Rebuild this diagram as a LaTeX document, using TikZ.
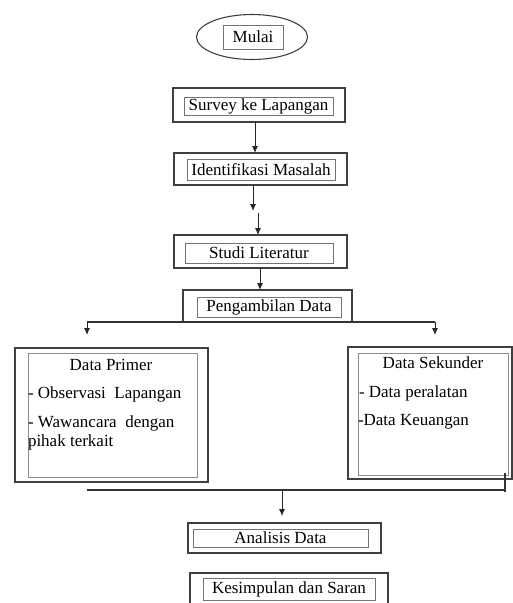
\documentclass[tikz,border=0pt]{standalone}
\usepackage{fontspec}
\setmainfont{Liberation Serif}
\usetikzlibrary{arrows.meta,shapes.geometric}
\begin{document}
\begin{tikzpicture}[x=1pt,y=-1pt,
  obox/.style={draw=black!75,line width=1.1pt,inner sep=0pt,outer sep=0pt},
  ibox/.style={draw=black!55,line width=0.6pt,inner sep=0pt,outer sep=0pt,font=\fontsize{17}{19}\selectfont},
  txt/.style={inner sep=0pt,outer sep=0pt,font=\fontsize{17}{19}\selectfont},
  arr/.style={draw=black!85,line width=0.9pt,-{Latex[length=7pt,width=6pt]}},
  ln/.style={draw=black!80,line width=1.1pt}]
\useasboundingbox (0,0) rectangle (513,603);
% start
\node[ellipse,obox,minimum width=111,minimum height=45] (mulai) at (252,37) {};
\node[ibox,minimum width=60,minimum height=24] (mulait) at (253,37) {Mulai};
% survey
\node[obox,minimum width=172,minimum height=34] (survey) at (259,105) {};
\node[ibox,minimum width=149,minimum height=18] (surveyt) at (258.5,106) {Survey ke Lapangan};
% identifikasi
\node[obox,minimum width=173,minimum height=32] (ident) at (260.5,169) {};
\node[ibox,minimum width=148,minimum height=21] (identt) at (261,169.5) {Identifikasi Masalah};
% studi
\node[obox,minimum width=173,minimum height=33] (studi) at (260.5,251.5) {};
\node[ibox,minimum width=148,minimum height=20] (studit) at (259,253) {Studi Literatur};
% pengambilan
\node[obox,minimum width=169,minimum height=32] (ambil) at (267.5,306) {};
\node[ibox,minimum width=144,minimum height=20] (ambilt) at (269,307) {Pengambilan Data};
% data primer
\node[obox,minimum width=193,minimum height=134] (primer) at (111.5,415) {};
\node[draw=black!45,line width=0.6pt,inner sep=0pt,minimum width=169,minimum height=124] (primeri) at (112.5,415) {};
\node[txt] (primert) at (111,365) {Data Primer};
\node[txt,anchor=west] (p1) at (28,394) {- Observasi\ \ Lapangan};
\node[txt,anchor=west] (p2) at (28,423) {- Wawancara\ \ dengan};
\node[txt,anchor=west] (p3) at (28,442) {pihak terkait};
% data sekunder
\node[obox,minimum width=164,minimum height=132] (sekunder) at (430,413) {};
\node[draw=black!45,line width=0.6pt,inner sep=0pt,minimum width=150,minimum height=122] (sekunderi) at (433,414) {};
\node[txt] (sekundert) at (433,363) {Data Sekunder};
\node[txt,anchor=west] (s1) at (359,393) {- Data peralatan};
\node[txt,anchor=west] (s2) at (358,422) {-Data Keuangan};
% analisis
\node[obox,minimum width=193,minimum height=30] (analisis) at (284.5,538) {};
\node[ibox,minimum width=175,minimum height=18] (analisist) at (280.5,538) {Analisis Data};
% kesimpulan
\node[obox,minimum width=198,minimum height=44] (kesim) at (289,595) {};
\node[ibox,minimum width=172,minimum height=22] (kesimt) at (289,589) {Kesimpulan dan Saran};
% connectors
\draw[arr] (survey.south -| 255,0) -- (ident.north -| 255,0);
\coordinate (m1) at (253,211);
\coordinate (m2) at (258,213);
\draw[arr] (ident.south -| m1) -- (m1);
\draw[arr] (m2) -- (studi.north -| m2);
\draw[arr] (studi.south -| 260,0) -- (ambil.north -| 260,0);
% split
\coordinate (sl) at (87,322);
\coordinate (sr) at (435,322);
\draw[ln] (sl) -- (sr);
\draw[arr] (sl) -- (87,335);
\draw[arr] (sr) -- (435,335);
% merge
\coordinate (jl) at (87,490);
\coordinate (jr) at (505,490);
\coordinate (jm) at (282,490);
\draw[ln] (jl) -- (jr);
\draw[ln] (505,473) -- (505,492);
\draw[arr] (jm) -- (282,516);
\end{tikzpicture}
\end{document}
